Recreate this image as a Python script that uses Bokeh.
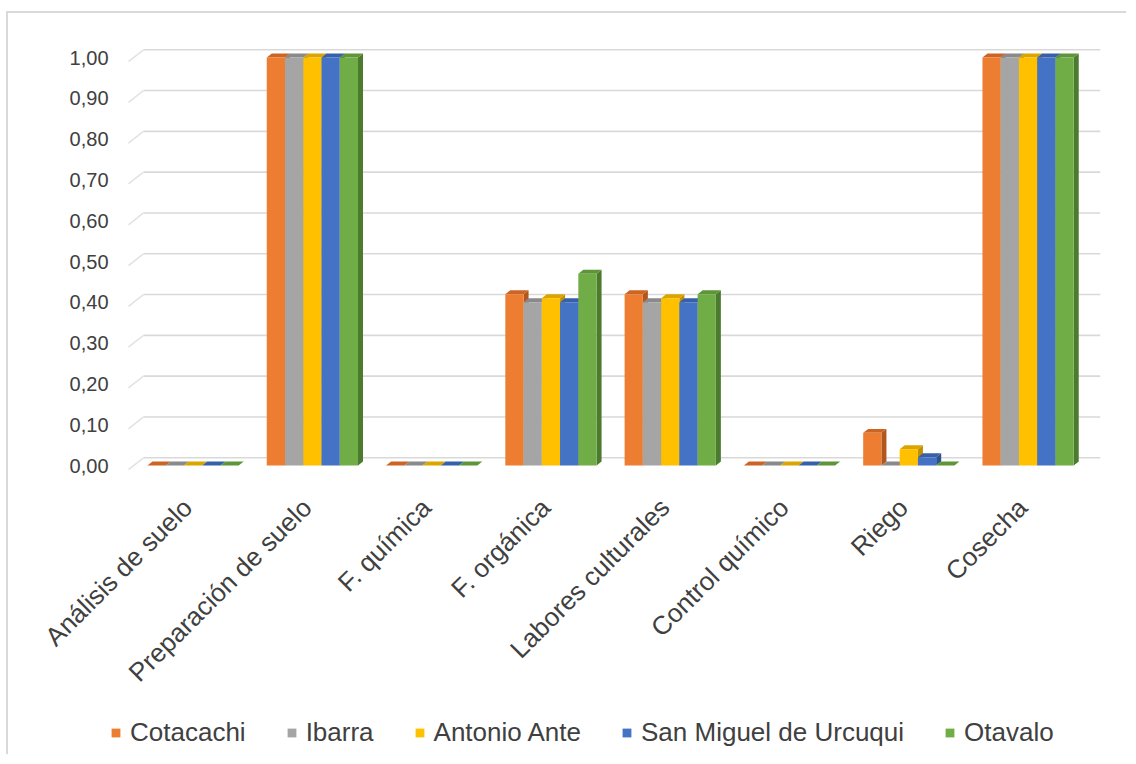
import math
from bokeh.plotting import figure
from bokeh.models import Range1d, Legend, LegendItem, ColumnDataSource
from bokeh.core.properties import value
from bokeh.embed import file_html
from bokeh.resources import INLINE

categories = ["Análisis de suelo", "Preparación de suelo", "F. química", "F. orgánica",
              "Labores culturales", "Control químico", "Riego", "Cosecha"]
series_names = ["Cotacachi", "Ibarra", "Antonio Ante", "San Miguel de Urcuqui", "Otavalo"]
cotacachi = [0.00, 1.00, 0.00, 0.42, 0.42, 0.00, 0.08, 1.00]
ibarra = [0.00, 1.00, 0.00, 0.40, 0.40, 0.00, 0.00, 1.00]
antonio_ante = [0.00, 1.00, 0.00, 0.41, 0.41, 0.00, 0.04, 1.00]
san_miguel = [0.00, 1.00, 0.00, 0.40, 0.40, 0.00, 0.02, 1.00]
otavalo = [0.00, 1.00, 0.00, 0.47, 0.42, 0.00, 0.00, 1.00]
y_ticks = [0.0, 0.1, 0.2, 0.3, 0.4, 0.5, 0.6, 0.7, 0.8, 0.9, 1.0]
y_tick_labels = ["0,00", "0,10", "0,20", "0,30", "0,40", "0,50", "0,60", "0,70", "0,80", "0,90", "1,00"]

series_values = [cotacachi, ibarra, antonio_ante, san_miguel, otavalo]
front_colors = ["#ED7D31", "#A5A5A5", "#FFC000", "#4472C4", "#70AD47"]
top_colors = ["#CC6424", "#8A8A8A", "#DBA500", "#3760AA", "#5E9539"]
side_colors = ["#B2561C", "#777777", "#BF9000", "#2F528F", "#4C7A2E"]

FONT = "Liberation Sans"
TXT = "#404040"

X0, X1 = -1.383, 7.587
p = figure(width=1120, height=743, x_range=Range1d(X0, X1), y_range=Range1d(-0.7034, 1.0221),
           output_backend="svg", toolbar_location=None, x_axis_location=None, y_axis_location=None,
           min_border_left=22, min_border_right=28, min_border_top=35, min_border_bottom=4)
p.styles = {"margin-left": "6px", "margin-top": "11px",
            "border-left": "2px solid #d9d9d9", "border-top": "2px solid #d9d9d9"}
p.outline_line_color = None
p.grid.grid_line_color = None

# gridlines on the back wall of the 3-D plot, with short floor lead-ins on the left
wall_dy = 0.019
front_dy = -0.010
gx_front, gx_wall = -0.562, -0.436
p.segment(x0=[gx_wall] * len(y_ticks), x1=[X1] * len(y_ticks),
          y0=[t + wall_dy for t in y_ticks], y1=[t + wall_dy for t in y_ticks],
          line_color="#d9d9d9", line_width=1.6)
p.segment(x0=[gx_front] * len(y_ticks), x1=[gx_wall] * len(y_ticks),
          y0=[t + front_dy for t in y_ticks], y1=[t + wall_dy for t in y_ticks],
          line_color="#e3e3e3", line_width=1.6)

# value-axis labels
p.text(x=[-0.729] * len(y_ticks), y=y_ticks, text=y_tick_labels,
       text_align="right", text_baseline="middle",
       text_font=value(FONT), text_font_size="20px", text_color=TXT)

bw = 0.153   # bar front width (x units)
dx = 0.042   # depth offset x
dy = 0.0098  # depth offset y
items = []
for j, (name, vals) in enumerate(zip(series_names, series_values)):
    xs_c = [i + (j - 2) * bw - 0.02 for i in range(len(categories))]
    side_xs, side_ys, top_xs, top_ys = [], [], [], []
    for xc, v in zip(xs_c, vals):
        l, r = xc - bw / 2, xc + bw / 2
        side_xs.append([r, r + dx, r + dx, r])
        side_ys.append([0, dy, v + dy, v])
        top_xs.append([l, r, r + dx, l + dx])
        top_ys.append([v, v, v + dy, v + dy])
    p.patches(side_xs, side_ys, fill_color=side_colors[j], line_color=None)
    p.patches(top_xs, top_ys, fill_color=top_colors[j], line_color=None)
    r = p.vbar(x=xs_c, top=vals, bottom=0, width=bw, fill_color=front_colors[j], line_color=None)
    items.append(LegendItem(label=name, renderers=[r]))

# category labels (rotated 45 degrees) below the bar floor
lab_src = ColumnDataSource(dict(x=[i - 0.065 for i in range(len(categories))],
                                y=[-0.092] * len(categories), text=categories))
p.text(x="x", y="y", text="text", source=lab_src, angle=math.pi / 4,
       text_align="right", text_baseline="middle",
       text_font=value(FONT), text_font_size="26px", text_color=TXT)

legend = Legend(items=items, orientation="horizontal", location=(80, 4),
                glyph_width=11, glyph_height=11, label_standoff=9, spacing=40,
                label_text_font=FONT, label_text_font_size="26px", label_text_color=TXT,
                border_line_color=None, background_fill_alpha=0, padding=0, margin=0)
p.add_layout(legend, "center")

open("out.html", "w").write(file_html(p, INLINE))
